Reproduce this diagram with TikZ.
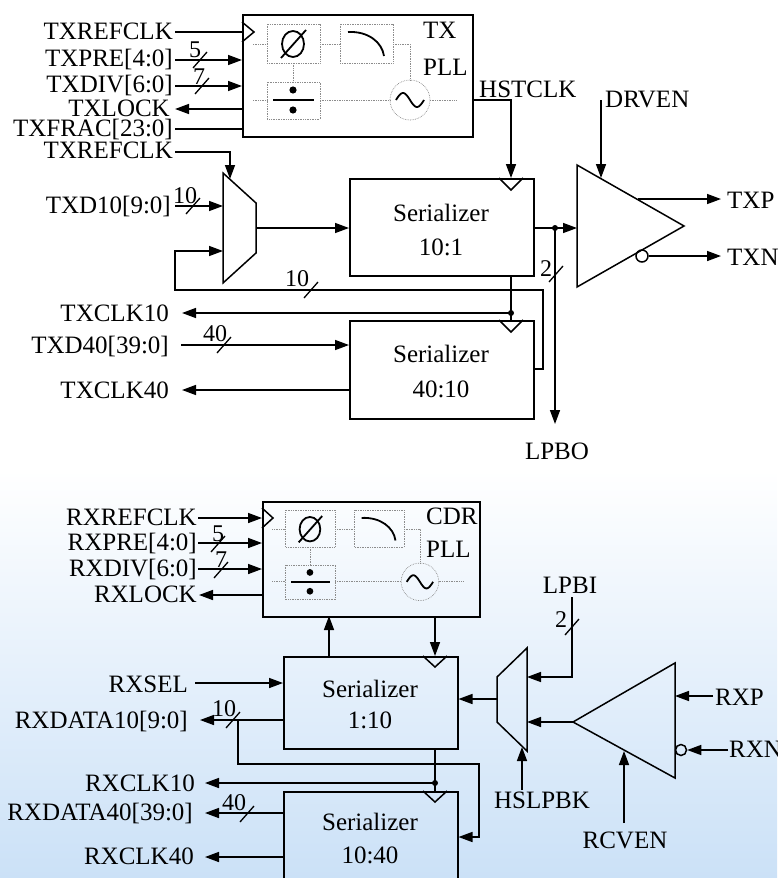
\documentclass[tikz,border=0pt]{standalone}
\usepackage{fontspec}
\setmainfont{Liberation Serif}
\usetikzlibrary{arrows.meta}
\definecolor{bgblue}{RGB}{203,225,247}
\newcommand\pllguts{%
  \draw[dbox] (25,10) rectangle (78,49);
  \draw[dbox] (98,10) rectangle (151,49);
  \draw[dbox] (25,68) rectangle (78,105);
  \draw[dbox] (168,86) circle (20);
  \draw[dbox] (11,30) -- (25,30);
  \draw[dbox] (78,30) -- (98,30);
  \draw[dbox] (151,30) -- (168,30) -- (168,66);
  \draw[dbox] (51,49) -- (51,68);
  \draw[dbox] (11,86) -- (25,86);
  \draw[dbox] (78,86) -- (148,86);
  \draw[dbox] (188,86) -- (215,86);
  \draw[sym] (51,30) ellipse [x radius=11, y radius=13];
  \draw[sym] (39,44) -- (64,16);
  \draw[sym] (106,18) .. controls (126,17) and (140,28) .. (142,42);
  \draw[line width=2.6pt] (31,86) -- (72,86);
  \fill (51,76) circle (3.6);
  \fill (51,96) circle (3.6);
  \draw[sym] plot[domain=-14:14,samples=40,smooth] ({168+\x},{86+7*sin(12.86*\x)});
}
\newcommand\busmark[1]{\draw[slash] (#1) ++(-7,8) -- ++(14,-16);}
\begin{document}
\begin{tikzpicture}[x=1pt,y=-1pt,
  wire/.style={line width=1.5pt},
  arr/.style={line width=1.5pt,-{Triangle[length=14pt,width=10pt]}},
  slash/.style={line width=1.3pt},
  box/.style={draw,line width=1.5pt,inner sep=0pt},
  dbox/.style={draw=black!45,densely dotted,line width=0.7pt},
  sym/.style={line width=1.8pt},
  lbl/.style={inner sep=0pt,font=\fontsize{25}{28}\selectfont},
  num/.style={inner sep=0pt,font=\fontsize{24}{26}\selectfont},
  dot/.style={circle,fill,inner sep=0pt,minimum size=6pt}]
\useasboundingbox (0,0) rectangle (777,878);
\shade[top color=white,bottom color=bgblue] (0,470) rectangle (777,878);

% ================= TX =================
\node[box,fill=white,minimum width=230pt,minimum height=122pt,anchor=north west] (txpll) at (242,14) {};
\draw[wire] (242,22) -- (254,32) -- (242,42);
\begin{scope}[shift={(242,14)}]\pllguts\end{scope}
\node[lbl,anchor=base west] (txplla) at (423,38) {TX};
\node[lbl,anchor=base west] (txpllb) at (423,75) {PLL};

\node[lbl,anchor=base east] (lTxref) at (173,39) {TXREFCLK};
\node[lbl,anchor=base east] (lTxpre) at (173,66) {TXPRE[4:0]};
\node[lbl,anchor=base east] (lTxdiv) at (173,92) {TXDIV[6:0]};
\node[lbl,anchor=base east] (lTxlock) at (170,116) {TXLOCK};
\node[lbl,anchor=base east] (lTxfrac) at (173,136) {TXFRAC[23:0]};
\node[lbl,anchor=base east] (lTxref2) at (173,158) {TXREFCLK};

\coordinate (pTxref) at (175,32);
\coordinate (pTxpre) at (175,60);
\coordinate (pTxdiv) at (175,86);
\coordinate (pTxlock) at (175,109);
\coordinate (pTxfrac) at (175,129);
\coordinate (pTxref2) at (175,152);
\draw[wire] (pTxref) -- (pTxref -| txpll.west);
\draw[arr] (pTxpre) -- (pTxpre -| txpll.west);
\draw[arr] (pTxdiv) -- (pTxdiv -| txpll.west);
\draw[arr] (pTxlock -| txpll.west) -- (pTxlock);
\draw[wire] (pTxfrac) -- (pTxfrac -| txpll.west);
\coordinate (sTxpre) at (200,60); \busmark{sTxpre}
\node[num,anchor=base] (nTxpre) at (195,57) {5};
\coordinate (sTxdiv) at (202,86); \busmark{sTxdiv}
\node[num,anchor=base] (nTxdiv) at (199,84) {7};

% TX mux
\draw[wire] (223,173) -- (256,203) -- (256,253) -- (223,283) -- cycle;
\coordinate (txmuxT) at (230,179);
\coordinate (txmuxA) at (223,206);
\coordinate (txmuxB) at (223,251);
\coordinate (txmuxO) at (256,228);
\draw[arr] (pTxref2) -| (txmuxT);

\node[lbl,anchor=base east] (lTxd10) at (171,213) {TXD10[9:0]};
\coordinate (pTxd10) at (175,206);
\draw[arr] (pTxd10) -- (txmuxA);
\coordinate (sTxd10) at (193,206); \busmark{sTxd10}
\node[num,anchor=base] (nTxd10) at (185,203) {10};

% serializer 10:1
\node[box,minimum width=184pt,minimum height=97pt,anchor=north west] (ser1) at (349,178) {};
\draw[wire] (499,178) -- (511,190) -- (523,178);
\node[lbl,anchor=base] (ser1a) at (441,221) {Serializer};
\node[lbl,anchor=base] (ser1b) at (441,255) {10:1};
\draw[arr] (txmuxO) -- (txmuxO -| ser1.west);

\coordinate (hst) at (511,100);
\draw[arr] (txpll.east |- hst) -| (hst |- ser1.north);
\node[lbl,anchor=base west] (lHst) at (479,97) {HSTCLK};

% driver
\draw[wire] (577,165) -- (684,226) -- (577,287) -- cycle;
\coordinate (drvIn) at (577,228);
\coordinate (jOut) at (555,228);
\draw[wire] (ser1.east |- jOut) -- (jOut);
\draw[arr] (jOut) -- (drvIn);
\node[dot] (dOut) at (jOut) {};
\coordinate (lpbo) at (555,424);
\draw[arr] (jOut) -- (lpbo);
\node[lbl,anchor=base] (lLpbo) at (557,459) {LPBO};
\coordinate (sLpbo) at (556,274); \busmark{sLpbo}
\node[num,anchor=base] (nLpbo) at (546,276) {2};

\coordinate (drven) at (601,100);
\coordinate (drvT) at (601,178);
\draw[arr] (drven) -- (drvT);
\node[lbl,anchor=base west] (lDrven) at (605,107) {DRVEN};
\coordinate (txpS) at (638,199);
\coordinate (txpE) at (721,199);
\draw[arr] (txpS) -- (txpE);
\node[lbl,anchor=base west] (lTxp) at (727,208) {TXP};
\node[draw,circle,line width=1.5pt,minimum size=12pt,inner sep=0pt] (txnB) at (642,256) {};
\coordinate (txnE) at (721,256);
\draw[arr] (txnB.east) -- (txnE);
\node[lbl,anchor=base west] (lTxn) at (727,265) {TXN};

% serializer 40:10
\node[box,minimum width=184pt,minimum height=98pt,anchor=north west] (ser2) at (349,320) {};
\draw[wire] (499,320) -- (511,332) -- (523,320);
\node[lbl,anchor=base] (ser2a) at (441,362) {Serializer};
\node[lbl,anchor=base] (ser2b) at (441,397) {40:10};

\coordinate (jClk10) at (511,313);
\draw[wire] (jClk10 |- ser1.south) -- (jClk10) -- (jClk10 |- ser2.north);
\coordinate (pTxclk10) at (182,313);
\draw[arr] (jClk10) -- (pTxclk10);
\node[dot] (dClk10) at (jClk10) {};
\node[lbl,anchor=base east] (lTxclk10) at (169,321) {TXCLK10};

\coordinate (fb1) at (543,369);
\coordinate (fbL) at (175,290);
\draw[arr] (ser2.east |- fb1) -- (fb1) |- (fbL) |- (txmuxB);
\coordinate (sFb) at (311,290); \busmark{sFb}
\node[num,anchor=base] (nFb) at (297,286) {10};

\coordinate (pTxd40) at (181,345);
\draw[arr] (pTxd40) -- (pTxd40 -| ser2.west);
\node[lbl,anchor=base east] (lTxd40) at (169,353) {TXD40[39:0]};
\coordinate (sTxd40) at (224,345); \busmark{sTxd40}
\node[num,anchor=base] (nTxd40) at (215,341) {40};
\coordinate (pTxclk40) at (182,390);
\draw[arr] (pTxclk40 -| ser2.west) -- (pTxclk40);
\node[lbl,anchor=base east] (lTxclk40) at (169,398) {TXCLK40};

% ================= RX =================
\node[box,minimum width=217pt,minimum height=115pt,anchor=north west] (cdr) at (262,501) {};
\draw[wire] (262,508) -- (273,518) -- (262,528);
\begin{scope}[shift={(262,501)},scale=0.94]\pllguts\end{scope}
\node[lbl,anchor=base west] (cdra) at (426,524) {CDR};
\node[lbl,anchor=base west] (cdrb) at (426,557) {PLL};

\node[lbl,anchor=base east] (lRxref) at (197,525) {RXREFCLK};
\node[lbl,anchor=base east] (lRxpre) at (197,550) {RXPRE[4:0]};
\node[lbl,anchor=base east] (lRxdiv) at (197,576) {RXDIV[6:0]};
\node[lbl,anchor=base east] (lRxlock) at (197,602) {RXLOCK};
\coordinate (pRxref) at (198,518);
\coordinate (pRxpre) at (198,543);
\coordinate (pRxdiv) at (198,569);
\coordinate (pRxlock) at (199,595);
\draw[arr] (pRxref) -- (pRxref -| cdr.west);
\draw[arr] (pRxpre) -- (pRxpre -| cdr.west);
\draw[arr] (pRxdiv) -- (pRxdiv -| cdr.west);
\draw[arr] (pRxlock -| cdr.west) -- (pRxlock);
\coordinate (sRxpre) at (218,544); \busmark{sRxpre}
\node[num,anchor=base] (nRxpre) at (218,541) {5};
\coordinate (sRxdiv) at (221,570); \busmark{sRxdiv}
\node[num,anchor=base] (nRxdiv) at (221,567) {7};

% serializer 1:10
\node[box,minimum width=174pt,minimum height=92pt,anchor=north west] (ser3) at (283,656) {};
\draw[wire] (423,656) -- (435,667) -- (447,656);
\node[lbl,anchor=base] (ser3a) at (370,697) {Serializer};
\node[lbl,anchor=base] (ser3b) at (370,728) {1:10};
\coordinate (cdrUp) at (329,616);
\coordinate (cdrDn) at (435,616);
\draw[arr] (cdrUp |- ser3.north) -- (cdrUp);
\draw[arr] (cdrDn) -- (cdrDn |- ser3.north);

\node[lbl,anchor=base east] (lRxsel) at (188,692) {RXSEL};
\coordinate (pRxsel) at (195,683);
\draw[arr] (pRxsel) -- (pRxsel -| ser3.west);
\node[lbl,anchor=base east] (lRxd10) at (188,728) {RXDATA10[9:0]};
\coordinate (pRxd10) at (200,720);
\draw[arr] (pRxd10 -| ser3.west) -- (pRxd10);
\coordinate (sRxd10) at (233,720); \busmark{sRxd10}
\node[num,anchor=base] (nRxd10) at (224,716) {10};

% serializer 10:40
\node[box,minimum width=174pt,minimum height=130pt,anchor=north west] (ser4) at (283,791) {};
\draw[wire] (423,791) -- (435,802) -- (447,791);
\node[lbl,anchor=base] (ser4a) at (370,830) {Serializer};
\node[lbl,anchor=base] (ser4b) at (370,863) {10:40};

\coordinate (br10) at (238,720);
\coordinate (brR) at (479,764);
\coordinate (s4in) at (479,837);
\draw[arr] (br10) |- (brR) -- (s4in) -- (s4in -| ser4.east);

\coordinate (jRx) at (435,783);
\draw[wire] (jRx |- ser3.south) -- (jRx) -- (jRx |- ser4.north);
\coordinate (pRxclk10) at (205,783);
\draw[arr] (jRx) -- (pRxclk10);
\node[dot] (dRx) at (jRx) {};
\node[lbl,anchor=base east] (lRxclk10) at (195,791) {RXCLK10};

\coordinate (pRxd40) at (205,813);
\draw[arr] (pRxd40 -| ser4.west) -- (pRxd40);
\node[lbl,anchor=base east] (lRxd40) at (193,820) {RXDATA40[39:0]};
\coordinate (sRxd40) at (247,814); \busmark{sRxd40}
\node[num,anchor=base] (nRxd40) at (234,810) {40};
\coordinate (pRxclk40) at (205,857);
\draw[arr] (pRxclk40 -| ser4.west) -- (pRxclk40);
\node[lbl,anchor=base east] (lRxclk40) at (194,864) {RXCLK40};

% RX mux
\draw[wire] (527,648) -- (527,751) -- (497,722) -- (497,677) -- cycle;
\coordinate (rxmuxO) at (497,699);
\coordinate (rxmuxA) at (527,677);
\coordinate (rxmuxB) at (527,722);
\coordinate (rxmuxS) at (522,747);
\draw[arr] (rxmuxO) -- (rxmuxO -| ser3.east);
\coordinate (lpbi) at (572,597);
\draw[arr] (lpbi) |- (rxmuxA);
\node[lbl,anchor=base] (lLpbi) at (570,593) {LPBI};
\coordinate (sLpbi) at (572,627); \busmark{sLpbi}
\node[num,anchor=base] (nLpbi) at (561,627) {2};

% receiver
\draw[wire] (675,663) -- (675,778) -- (573,722) -- cycle;
\coordinate (rcvO) at (573,722);
\draw[arr] (rcvO) -- (rxmuxB);
\coordinate (rxp) at (713,696);
\coordinate (rcvP) at (675,696);
\draw[arr] (rxp) -- (rcvP);
\node[lbl,anchor=base west] (lRxp) at (715,705) {RXP};
\node[draw,circle,line width=1.5pt,minimum size=11pt,inner sep=0pt] (rxnB) at (681,750) {};
\coordinate (rxn) at (728,750);
\draw[arr] (rxn) -- (rxnB.east);
\node[lbl,anchor=base west] (lRxn) at (729,757) {RXN};

\coordinate (hsl) at (522,790);
\draw[arr] (hsl) -- (rxmuxS);
\node[lbl,anchor=base] (lHsl) at (542,808) {HSLPBK};
\coordinate (rcven) at (624,823);
\coordinate (rcvB) at (624,751);
\draw[arr] (rcven) -- (rcvB);
\node[lbl,anchor=base] (lRcv) at (625,848) {RCVEN};
\end{tikzpicture}
\end{document}
